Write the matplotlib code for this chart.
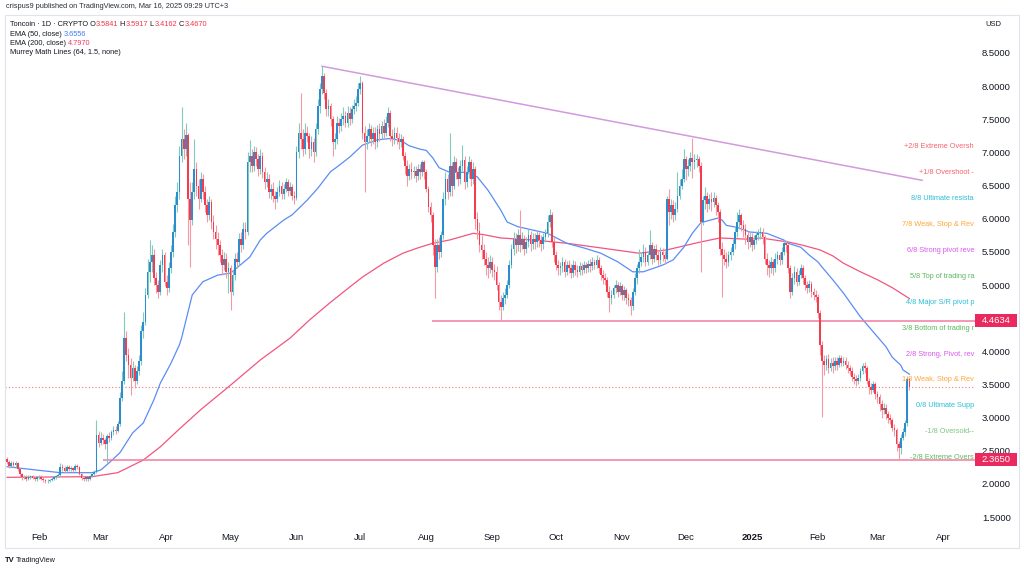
import matplotlib
matplotlib.use('Agg')
import matplotlib.pyplot as plt
from matplotlib.patches import Rectangle
from matplotlib.text import Annotation
import numpy as np

plt.rcParams['font.family'] = ['Liberation Sans', 'DejaVu Sans']

# ---------------- data (daily candles, 2024-01-17 .. 2025-03-16) ----------------
first_open = 2.38
close = [
    2.33, 2.27, 2.32, 2.29, 2.31, 2.22, 2.15, 2.10, 2.11, 2.08,
    2.10, 2.12, 2.09, 2.07, 2.10, 2.11, 2.08, 2.06, 2.04, 2.05,
    2.06, 2.08, 2.10, 2.12, 2.14, 2.26, 2.24, 2.20, 2.25, 2.22,
    2.24, 2.21, 2.27, 2.25, 2.15, 2.09, 2.07, 2.10, 2.08, 2.12,
    2.15, 2.18, 2.74, 2.62, 2.70, 2.66, 2.60, 2.72, 2.70, 2.78,
    2.82, 2.80, 2.90, 3.30, 3.55, 4.20, 3.95, 3.80, 3.60, 3.75,
    3.55, 3.70, 3.85, 4.30, 4.45, 4.85, 5.20, 5.35, 5.45, 5.10,
    5.00, 4.90, 5.30, 5.45, 5.05, 4.95, 5.25, 5.50, 5.80, 6.20,
    6.40, 6.95, 7.20, 7.05, 7.26, 6.30, 5.98, 6.40, 6.75, 6.50,
    6.30, 6.60, 6.40, 6.20, 6.05, 6.25, 5.95, 5.80, 5.70, 5.60,
    5.45, 5.30, 5.40, 5.20, 5.25, 4.90, 5.15, 5.40, 5.35, 5.70,
    5.60, 5.85, 5.80, 6.85, 6.95, 6.80, 7.00, 6.90, 6.75, 6.95,
    6.70, 6.55, 6.60, 6.40, 6.45, 6.35, 6.30, 6.40, 6.50, 6.38,
    6.45, 6.55, 6.42, 6.48, 6.35, 6.32, 7.00, 7.30, 7.20, 7.05,
    7.30, 7.25, 7.05, 7.15, 7.00, 7.35, 7.70, 7.95, 8.15, 7.90,
    7.65, 7.70, 7.50, 7.15, 7.20, 7.45, 7.40, 7.50, 7.55, 7.45,
    7.60, 7.50, 7.65, 7.70, 7.75, 7.95, 8.05, 7.30, 7.15, 7.25,
    7.35, 7.20, 7.30, 7.15, 7.35, 7.28, 7.40, 7.30, 7.45, 7.60,
    7.25, 7.20, 7.30, 7.22, 7.15, 7.20, 6.95, 6.80, 6.65, 6.75,
    6.70, 6.72, 6.65, 6.75, 6.70, 6.85, 6.70, 6.45, 6.18, 6.05,
    5.60, 5.27, 5.60, 5.50, 5.75, 6.30, 6.60, 6.40, 6.80, 6.50,
    6.85, 6.70, 6.60, 6.80, 6.88, 6.55, 6.70, 6.85, 6.60, 6.75,
    6.00, 5.82, 5.60, 5.53, 5.40, 5.30, 5.25, 5.35, 5.22, 5.20,
    5.00, 4.75, 4.67, 4.80, 4.85, 5.00, 5.30, 5.55, 5.70, 5.60,
    5.75, 5.60, 5.70, 5.55, 5.65, 5.75, 5.62, 5.70, 5.65, 5.75,
    5.68, 5.62, 5.72, 5.78, 5.95, 6.05, 5.65, 5.45, 5.30, 5.25,
    5.28, 5.35, 5.20, 5.30, 5.25, 5.18, 5.30, 5.22, 5.20, 5.28,
    5.22, 5.30, 5.25, 5.32, 5.28, 5.35, 5.30, 5.38, 5.25, 5.15,
    5.10, 5.08, 4.90, 4.80, 4.85, 4.95, 5.00, 4.90, 4.98, 4.85,
    4.92, 4.80, 4.78, 4.68, 4.90, 5.10, 5.25, 5.35, 5.42, 5.50,
    5.35, 5.45, 5.60, 5.40, 5.55, 5.45, 5.38, 5.50, 5.45, 5.40,
    6.30, 6.10, 6.20, 6.05, 6.15, 6.35, 6.50, 6.60, 6.90, 6.75,
    6.80, 6.92, 6.85, 6.88, 6.90, 6.80, 5.95, 6.28, 6.35, 6.22,
    6.30, 6.25, 6.32, 6.20, 6.10, 5.55, 5.45, 5.40, 5.35, 5.45,
    5.50, 5.62, 5.80, 5.95, 6.05, 5.90, 5.85, 5.75, 5.65, 5.72,
    5.60, 5.68, 5.75, 5.78, 5.80, 5.72, 5.40, 5.30, 5.25, 5.35,
    5.25, 5.40, 5.45, 5.38, 5.50, 5.63, 5.60, 5.25, 4.90, 5.10,
    5.20, 5.05, 5.15, 5.25, 5.10, 5.00, 4.95, 5.02, 4.90, 4.85,
    4.82, 4.58, 4.10, 3.85, 3.80, 3.88, 3.75, 3.82, 3.78, 3.85,
    3.80, 3.90, 3.83, 3.86, 3.80, 3.75, 3.70, 3.62, 3.58, 3.55,
    3.60, 3.70, 3.78, 3.75, 3.55, 3.46, 3.42, 3.50, 3.35, 3.31,
    3.20, 3.12, 3.15, 3.05, 3.00, 2.97, 2.85, 2.81, 2.60, 2.54,
    2.70, 2.78, 2.92, 3.5841, 3.4670,
]
high = [
    2.41, 2.36, 2.35, 2.34, 2.34, 2.33, 2.24, 2.17, 2.14, 2.13,
    2.13, 2.14, 2.14, 2.11, 2.12, 2.13, 2.13, 2.10, 2.08, 2.07,
    2.08, 2.10, 2.12, 2.14, 2.17, 2.31, 2.30, 2.27, 2.28, 2.29,
    2.27, 2.26, 2.30, 2.30, 2.27, 2.17, 2.12, 2.12, 2.12, 2.14,
    2.17, 2.21, 2.96, 2.80, 2.78, 2.76, 2.70, 2.76, 2.78, 2.82,
    2.88, 2.87, 2.95, 3.38, 3.70, 4.60, 4.30, 4.05, 3.90, 3.85,
    3.80, 3.78, 3.95, 4.40, 4.60, 4.95, 5.40, 5.68, 5.60, 5.55,
    5.20, 5.08, 5.38, 5.55, 5.50, 5.15, 5.35, 5.60, 5.92, 6.35,
    6.55, 7.10, 7.69, 7.35, 7.45, 7.30, 6.55, 6.55, 7.20, 6.85,
    6.60, 6.70, 6.68, 6.50, 6.30, 6.35, 6.30, 6.05, 5.90, 5.80,
    5.68, 5.55, 5.50, 5.48, 5.35, 5.30, 5.22, 5.48, 5.50, 5.78,
    5.80, 5.95, 5.95, 7.00, 7.19, 7.05, 7.10, 7.08, 6.98, 7.05,
    7.00, 6.78, 6.70, 6.68, 6.52, 6.55, 6.42, 6.48, 6.58, 6.56,
    6.52, 6.62, 6.60, 6.55, 6.52, 6.42, 7.10, 7.45, 7.90, 7.35,
    7.45, 7.40, 7.30, 7.25, 7.22, 7.45, 7.80, 8.05, 8.30, 8.20,
    7.95, 7.80, 7.75, 7.55, 7.30, 7.55, 7.52, 7.60, 7.68, 7.62,
    7.70, 7.68, 7.72, 7.80, 7.85, 8.05, 8.15, 8.08, 7.40, 7.35,
    7.45, 7.42, 7.38, 7.38, 7.42, 7.45, 7.48, 7.50, 7.55, 7.68,
    7.64, 7.35, 7.38, 7.38, 7.30, 7.28, 7.25, 7.00, 6.88, 6.82,
    6.85, 6.80, 6.80, 6.82, 6.82, 6.89, 6.88, 6.75, 6.50, 6.25,
    6.10, 5.70, 5.70, 5.72, 5.82, 6.40, 6.70, 6.68, 7.29, 6.85,
    6.95, 6.92, 6.78, 6.88, 7.11, 6.95, 6.80, 6.95, 6.90, 6.85,
    6.80, 6.10, 5.95, 5.75, 5.62, 5.50, 5.42, 5.45, 5.42, 5.32,
    5.28, 5.05, 4.85, 4.90, 4.95, 5.08, 5.38, 5.62, 5.80, 5.78,
    5.85, 6.13, 5.80, 5.75, 5.72, 5.85, 5.82, 5.78, 5.78, 5.82,
    5.80, 5.75, 5.78, 5.85, 6.05, 6.15, 6.10, 5.72, 5.52, 5.38,
    5.35, 5.42, 5.40, 5.36, 5.38, 5.32, 5.38, 5.36, 5.30, 5.35,
    5.34, 5.36, 5.35, 5.38, 5.40, 5.42, 5.40, 5.45, 5.42, 5.30,
    5.22, 5.18, 5.12, 4.98, 4.92, 5.00, 5.08, 5.05, 5.05, 5.02,
    4.98, 4.96, 4.88, 4.82, 4.95, 5.18, 5.32, 5.55, 5.50, 5.62,
    5.58, 5.52, 5.83, 5.65, 5.60, 5.62, 5.52, 5.58, 5.56, 5.52,
    6.35, 6.45, 6.30, 6.28, 6.25, 6.70, 6.60, 6.75, 7.05, 6.95,
    6.90, 7.00, 7.22, 6.98, 6.98, 6.95, 6.85, 6.35, 6.48, 6.40,
    6.38, 6.40, 6.40, 6.36, 6.25, 6.15, 5.65, 5.55, 5.50, 5.52,
    5.58, 5.70, 5.88, 6.10, 6.15, 6.08, 5.98, 5.92, 5.82, 5.80,
    5.78, 5.75, 5.82, 5.85, 5.88, 5.86, 5.76, 5.48, 5.38, 5.42,
    5.40, 5.48, 5.52, 5.50, 5.58, 5.68, 5.68, 5.62, 5.30, 5.18,
    5.28, 5.25, 5.22, 5.32, 5.30, 5.15, 5.06, 5.08, 5.06, 4.95,
    4.92, 4.86, 4.62, 4.15, 3.95, 3.94, 3.96, 3.90, 3.92, 3.92,
    3.92, 3.95, 3.94, 3.92, 3.92, 3.85, 3.80, 3.76, 3.68, 3.64,
    3.66, 3.75, 3.82, 3.84, 3.78, 3.60, 3.52, 3.56, 3.54, 3.40,
    3.36, 3.26, 3.22, 3.20, 3.10, 3.05, 3.00, 2.90, 2.85, 2.65,
    2.76, 2.84, 2.96, 3.62, 3.5917,
]
low = [
    2.30, 2.24, 2.25, 2.26, 2.26, 2.20, 2.12, 2.06, 2.07, 2.05,
    2.06, 2.08, 2.07, 2.04, 2.05, 2.08, 2.06, 2.03, 2.01, 2.02,
    2.03, 2.04, 2.06, 2.08, 2.10, 2.12, 2.20, 2.17, 2.18, 2.19,
    2.19, 2.18, 2.19, 2.22, 2.13, 2.06, 2.04, 2.05, 2.05, 2.06,
    2.10, 2.13, 2.16, 2.55, 2.58, 2.60, 2.52, 2.32, 2.64, 2.66,
    2.74, 2.75, 2.78, 2.88, 3.25, 3.50, 3.85, 3.60, 3.34, 3.55,
    3.45, 3.50, 3.65, 3.80, 4.20, 4.40, 4.80, 5.05, 5.20, 5.00,
    4.88, 4.80, 4.85, 5.20, 4.98, 4.85, 4.90, 5.18, 5.42, 5.72,
    6.10, 6.30, 6.85, 6.90, 6.95, 5.60, 5.27, 5.90, 6.30, 6.35,
    6.15, 6.25, 6.30, 6.10, 5.95, 5.98, 5.85, 5.70, 5.55, 5.45,
    5.35, 5.15, 5.22, 5.10, 4.88, 4.62, 4.85, 5.08, 5.25, 5.30,
    5.50, 5.55, 5.70, 5.75, 6.70, 6.70, 6.72, 6.80, 6.65, 6.68,
    6.62, 6.45, 6.48, 6.32, 6.30, 6.25, 6.15, 6.25, 6.35, 6.30,
    6.30, 6.40, 6.35, 6.36, 6.28, 6.22, 6.28, 6.92, 7.05, 6.95,
    6.98, 7.15, 6.92, 6.95, 6.85, 6.95, 7.28, 7.60, 7.88, 7.80,
    7.55, 7.55, 7.40, 6.95, 7.05, 7.12, 7.30, 7.32, 7.42, 7.38,
    7.38, 7.42, 7.45, 7.58, 7.62, 7.70, 7.88, 7.20, 6.40, 7.05,
    7.15, 7.10, 7.12, 7.05, 7.08, 7.18, 7.20, 7.22, 7.25, 7.38,
    7.18, 7.10, 7.12, 7.12, 7.05, 7.08, 6.88, 6.68, 6.50, 6.58,
    6.60, 6.62, 6.55, 6.58, 6.60, 6.65, 6.60, 6.40, 6.10, 5.95,
    5.45, 4.80, 5.20, 5.40, 5.42, 5.70, 6.20, 6.30, 6.35, 6.35,
    6.45, 6.60, 6.50, 6.52, 6.72, 6.45, 6.48, 6.62, 6.50, 6.52,
    5.85, 5.70, 5.50, 5.40, 5.30, 5.15, 5.10, 5.18, 5.12, 5.08,
    4.92, 4.62, 4.47, 4.62, 4.72, 4.80, 4.95, 5.25, 5.45, 5.48,
    5.52, 5.50, 5.55, 5.45, 5.48, 5.58, 5.52, 5.55, 5.55, 5.58,
    5.58, 5.52, 5.55, 5.65, 5.72, 5.88, 5.58, 5.35, 5.22, 5.15,
    5.15, 5.20, 5.12, 5.15, 5.18, 5.10, 5.12, 5.15, 5.12, 5.15,
    5.15, 5.18, 5.18, 5.20, 5.20, 5.22, 5.24, 5.25, 5.18, 5.08,
    5.02, 5.00, 4.82, 4.60, 4.72, 4.80, 4.88, 4.82, 4.85, 4.78,
    4.78, 4.72, 4.68, 4.55, 4.62, 4.85, 5.02, 5.18, 5.28, 5.35,
    5.28, 5.30, 5.40, 5.32, 5.35, 5.38, 5.30, 5.32, 5.36, 5.32,
    5.38, 5.90, 6.00, 5.95, 5.98, 6.10, 6.30, 6.45, 6.55, 6.58,
    6.65, 6.72, 6.62, 6.75, 6.78, 6.70, 5.20, 5.90, 6.15, 6.10,
    6.15, 6.12, 6.18, 6.05, 5.95, 5.45, 4.82, 5.30, 5.25, 5.28,
    5.38, 5.45, 5.55, 5.72, 5.85, 5.82, 5.72, 5.62, 5.55, 5.58,
    5.52, 5.55, 5.62, 5.68, 5.70, 5.62, 5.32, 5.15, 5.12, 5.18,
    5.15, 5.20, 5.32, 5.30, 5.32, 5.45, 5.50, 5.18, 4.80, 4.85,
    5.02, 4.98, 5.00, 5.10, 5.02, 4.92, 4.88, 4.90, 4.82, 4.78,
    4.75, 4.50, 3.95, 3.01, 3.65, 3.72, 3.68, 3.70, 3.68, 3.72,
    3.72, 3.76, 3.78, 3.78, 3.74, 3.68, 3.64, 3.56, 3.50, 3.48,
    3.50, 3.56, 3.66, 3.68, 3.50, 3.35, 3.36, 3.38, 3.28, 3.22,
    3.10, 3.00, 3.05, 2.98, 2.92, 2.90, 2.80, 2.72, 2.50, 2.37,
    2.45, 2.66, 2.72, 2.88, 3.4162,
]

month_idx = [15, 44, 75, 105, 136, 166, 197, 228, 258, 289, 319, 350, 381, 409, 440]
month_lbl = ['Feb', 'Mar', 'Apr', 'May', 'Jun', 'Jul', 'Aug', 'Sep', 'Oct', 'Nov',
             'Dec', '2025', 'Feb', 'Mar', 'Apr']

ema50_idx = [0, 11, 25, 40, 44, 48, 53, 59, 64, 69, 72, 77, 81, 82, 87, 92, 99, 105,
             108, 114, 119, 122, 130, 134, 141, 146, 152, 155, 161, 167, 174, 180,
             185, 189, 194, 197, 200, 203, 208, 216, 221, 226, 232, 235, 240, 247,
             254, 263, 271, 279, 287, 294, 299, 308, 313, 318, 322, 326, 334, 336,
             338, 343, 349, 357, 365, 367, 373, 377, 381, 383, 388, 393, 397, 401,
             405, 409, 413, 416, 420, 421, 424]
ema50_val = [2.26, 2.22, 2.17, 2.17, 2.21, 2.32, 2.47, 2.77, 2.92, 3.27, 3.52, 3.82,
             4.10, 4.20, 4.85, 5.05, 5.15, 5.18, 5.26, 5.42, 5.68, 5.78, 5.98, 6.06,
             6.28, 6.46, 6.71, 6.78, 6.93, 7.11, 7.19, 7.21, 7.18, 7.10, 7.05, 7.03,
             6.92, 6.77, 6.70, 6.70, 6.63, 6.43, 6.13, 5.95, 5.88, 5.83, 5.78, 5.63,
             5.56, 5.48, 5.35, 5.20, 5.20, 5.30, 5.38, 5.57, 5.78, 5.94, 6.01, 5.98,
             5.90, 5.87, 5.80, 5.78, 5.68, 5.63, 5.57, 5.45, 5.35, 5.27, 5.08, 4.88,
             4.70, 4.52, 4.37, 4.22, 4.07, 3.91, 3.79, 3.72, 3.6556]

ema200_idx = [0, 40, 52, 64, 72, 81, 91, 105, 119, 133, 142, 152, 161, 167, 177, 186,
              193, 200, 208, 219, 224, 232, 247, 263, 279, 297, 310, 326, 335, 349,
              354, 367, 374, 382, 388, 393, 401, 409, 416, 424]
ema200_val = [2.10, 2.11, 2.17, 2.36, 2.56, 2.83, 3.12, 3.49, 3.87, 4.20, 4.47, 4.74,
              4.97, 5.12, 5.33, 5.48, 5.56, 5.63, 5.68, 5.78, 5.76, 5.71, 5.68, 5.63,
              5.56, 5.48, 5.53, 5.65, 5.71, 5.69, 5.71, 5.65, 5.60, 5.53, 5.44, 5.33,
              5.20, 5.08, 4.96, 4.797]

murrey_vals = [7.031, 6.641, 6.250, 5.859, 5.469, 5.078, 4.688, 4.297, 3.906,
               3.516, 3.125, 2.734, 2.344]
murrey_text = ['+2/8 Extreme Oversh', '+1/8 Overshoot -', '8/8 Ultimate resista',
               '7/8 Weak, Stop & Rev', '6/8 Strong pivot reve', '5/8 Top of trading ra',
               '4/8 Major S/R pivot p', '3/8 Bottom of trading r', '2/8 Strong, Pivot, rev',
               '1/8 Weak, Stop & Rev', '0/8 Ultimate Supp', '-1/8 Oversold--',
               '-2/8 Extreme Overs']

resist_level = 4.4634
support_level = 2.3650
last_price = 3.4670
trend_idx = [148, 430]
trend_val = [8.30, 6.58]
price_ticks = [1.5, 2.0, 2.5, 3.0, 3.5, 4.0, 5.0, 5.5, 6.0, 6.5, 7.0, 7.5, 8.0, 8.5]

# ---------------- styles ----------------
W, H = 1024, 569
TXT = '#131722'
UP_BODY, UP_WICK = '#2b8ccf', '#7fcbbc'
DN_BODY, DN_WICK = '#f23d4f', '#f59aa4'
EMA50_C, EMA200_C = '#5b8cf5', '#f2557f'
MM_RED, MM_CYAN, MM_ORANGE = '#f7646e', '#2bbfd8', '#ffa53a'
MM_MAG, MM_GREEN, MM_LGREEN = '#d858ec', '#5cb85f', '#7cc47f'
murrey_colors = [MM_RED, MM_RED, MM_CYAN, MM_ORANGE, MM_MAG, MM_GREEN, MM_CYAN,
                 MM_GREEN, MM_MAG, MM_ORANGE, MM_CYAN, MM_LGREEN, MM_GREEN]


def xi(px):
    return (px - 7.08) / 2.128


def fx(px):
    return px / W


def fy(py):
    return 1 - py / H


fig = plt.figure(figsize=(W / 100, H / 100), dpi=100)
fig.patch.set_facecolor('white')
ax = fig.add_axes([fx(5), fy(528), 970 / W, 513 / H])
ax.set_facecolor('white')
ax.set_xlim(xi(5), xi(975))
ax.set_ylim(1.3356, 9.073)
for s in ax.spines.values():
    s.set_visible(False)

c = np.array(close)
o = np.array([first_open] + close[:-1])
hi = np.array(high)
lo = np.array(low)
idx = np.arange(len(c))
up = c >= o

# EMA lines
ax.plot(ema200_idx, ema200_val, color=EMA200_C, lw=0.9, zorder=2)
ax.plot(ema50_idx, ema50_val, color=EMA50_C, lw=0.9, zorder=2)

# candles
ax.vlines(idx[up], lo[up], hi[up], color=UP_WICK, lw=0.8, zorder=3)
ax.vlines(idx[~up], lo[~up], hi[~up], color=DN_WICK, lw=0.8, zorder=3)
ax.bar(idx[up], c[up] - o[up], bottom=o[up], width=0.8, color=UP_BODY,
       linewidth=0, zorder=4)
ax.bar(idx[~up], c[~up] - o[~up], bottom=o[~up], width=0.8, color=DN_BODY,
       linewidth=0, zorder=4)

# horizontal levels, trend line, last price line
xl, xr = ax.get_xlim()
ax.hlines(resist_level, xi(432), xr, color='#f17aa0', lw=1.1, zorder=2)
ax.hlines(support_level, xi(103), xr, color='#f17aa0', lw=1.1, zorder=2)
ax.hlines(last_price, xl, xr, color='#f4737f', lw=0.8, linestyles=(0, (1, 2)), zorder=1)
ax.plot(trend_idx, trend_val, color='#d39ade', lw=1.1, zorder=2)

# Murrey math labels (cut at the plot's right edge, as in TradingView)
for v, t, col in zip(murrey_vals, murrey_text, murrey_colors):
    ax.text(xi(974), v, t, color=col, fontsize=5.3, ha='right', va='bottom',
            clip_on=True, zorder=5)

# axes ticks
ax.yaxis.tick_right()
ax.set_yticks(price_ticks)
ax.set_yticklabels([f'{v:.4f}' for v in price_ticks])
ax.tick_params(axis='y', length=0, pad=5, labelsize=6.8, labelcolor=TXT)
ax.set_xticks(month_idx)
ax.set_xticklabels(month_lbl)
ax.tick_params(axis='x', length=0, pad=3.5, labelsize=6.8, labelcolor=TXT)
for lab in ax.get_xticklabels():
    if lab.get_text() == '2025':
        lab.set_fontweight('bold')

# price boxes on the right scale
ytr = ax.get_yaxis_transform()
for lvl in [resist_level, support_level]:
    ax.add_patch(Rectangle((1.0, lvl - 0.10), 42 / 970, 0.20, transform=ytr,
                           facecolor='#ea2a5e', edgecolor='none', clip_on=False, zorder=6))
    ax.text(1.0 + 21 / 970, lvl, f'{lvl:.4f}', transform=ytr, ha='center', va='center',
            color='white', fontsize=6.8, clip_on=False, zorder=7)

# outer frame
fig.add_artist(Rectangle((fx(5), fy(548)), 1014 / W, 533 / H, transform=fig.transFigure,
                         fill=False, edgecolor='#e0e3eb', lw=0.8))

# header & legend
fig.text(fx(6), fy(7), 'crispus9 published on TradingView.com, Mar 16, 2025 09:29 UTC+3',
         fontsize=5.3, color='#2a2e39', ha='left', va='center')
fig.text(fx(985), fy(24), 'USD', fontsize=5.5, color=TXT, ha='left', va='center')


def chain(parts, x, y, size=5.3):
    prev = fig.text(fx(x), fy(y), parts[0][0], color=parts[0][1], fontsize=size,
                    ha='left', va='center')
    for s, col in parts[1:]:
        prev = fig.add_artist(Annotation(
            s, xy=(1, 0.5), xycoords=prev, va='center', ha='left', color=col,
            fontsize=size, annotation_clip=False))


RED = '#f23645'
chain([('Toncoin · 1D · CRYPTO O', TXT), ('3.5841', RED), (' H', TXT), ('3.5917', RED),
       (' L', TXT), ('3.4162', RED), (' C', TXT), ('3.4670', RED)], 10, 24.3)
chain([('EMA (50, close) ', TXT), ('3.6556', '#3f7bf2')], 10, 34)
chain([('EMA (200, close) ', TXT), ('4.7970', '#f0386b')], 10, 43.7)
chain([('Murrey Math Lines (64, 1.5, none)', TXT)], 10, 53)

# footer logo
fig.text(fx(5), fy(560), 'TV', fontsize=5.5, fontweight='bold', color='#131722',
         ha='left', va='center')
fig.text(fx(16), fy(560), 'TradingView', fontsize=5.2, color='#131722',
         ha='left', va='center')

fig.savefig('out.png', dpi=100, facecolor='white')
